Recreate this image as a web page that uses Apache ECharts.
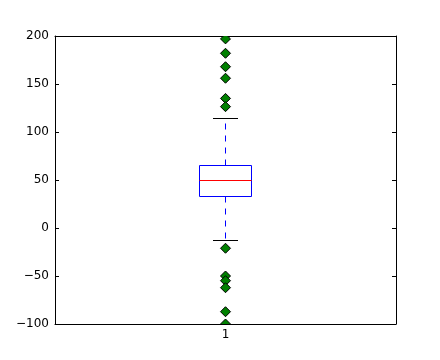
<!DOCTYPE html>
<html>
<head>
<meta charset="utf-8">
<script src="https://cdn.jsdelivr.net/npm/echarts@6/dist/echarts.min.js"></script>
<style>html,body{margin:0;padding:0;background:#fff;}#c{width:440px;height:360px;}</style>
</head>
<body>
<div id="c"></div>
<script>
const categories = ['1'];
// [lower whisker, Q1, median, Q3, upper whisker]
const boxStats = [-13.5, 32.3, 49.7, 65.3, 114.3];
const outliers = [197, 182, 168, 156, 135, 126.4, -21.1, -50, -54.9, -62.2, -87.2, -100];
const yTicks = { min: -100, max: 200, interval: 50 };

const FONT = 'DejaVu Sans';
const chart = echarts.init(document.getElementById('c'), null, { renderer: 'canvas' });

function fmtMinus(v) { return String(v).replace('-', '\u2212'); }
function snap(v) { return Math.round(v - 0.5) + 0.5; }

const axisCommon = {
  axisLine: { show: true, onZero: false, lineStyle: { color: '#000', width: 1 } },
  splitLine: { show: false }
};

chart.setOption({
  animation: false,
  backgroundColor: '#fff',
  grid: { left: 55, right: 44, top: 36, bottom: 36, containLabel: false },
  xAxis: [
    Object.assign({
      type: 'category', data: categories, boundaryGap: true, position: 'bottom',
      axisTick: { show: true, inside: true, alignWithLabel: true, length: 4, lineStyle: { color: '#000' } },
      axisLabel: { color: '#000', fontFamily: FONT, fontSize: 12, margin: 5 }
    }, axisCommon),
    Object.assign({
      type: 'category', data: categories, boundaryGap: true, position: 'top',
      axisTick: { show: true, inside: true, alignWithLabel: true, length: 4, lineStyle: { color: '#000' } },
      axisLabel: { show: false }
    }, axisCommon)
  ],
  yAxis: [
    Object.assign({
      type: 'value', min: yTicks.min, max: yTicks.max, interval: yTicks.interval, position: 'left',
      axisTick: { show: true, inside: true, length: 4, lineStyle: { color: '#000' } },
      axisLabel: { color: '#000', fontFamily: FONT, fontSize: 12, margin: 6, formatter: fmtMinus }
    }, axisCommon),
    Object.assign({
      type: 'value', min: yTicks.min, max: yTicks.max, interval: yTicks.interval, position: 'right',
      axisTick: { show: true, inside: true, length: 4, lineStyle: { color: '#000' } },
      axisLabel: { show: false }
    }, axisCommon)
  ],
  series: [
    {
      type: 'custom',
      xAxisIndex: 0, yAxisIndex: 0,
      clip: true,
      data: [[0].concat(boxStats)],
      encode: { x: 0, y: [1, 2, 3, 4, 5] },
      renderItem: function (params, api) {
        const idx = api.value(0);
        const lo = snap(api.coord([idx, api.value(1)])[1]);
        const q1 = snap(api.coord([idx, api.value(2)])[1]);
        const med = snap(api.coord([idx, api.value(3)])[1]);
        const q3 = snap(api.coord([idx, api.value(4)])[1]);
        const hi = snap(api.coord([idx, api.value(5)])[1]);
        const xc = api.coord([idx, api.value(3)])[0];
        const x = snap(xc);
        const bw = api.size([1, 0])[0] * 0.15;
        const cw = bw / 2;
        const bl = snap(xc - bw / 2), br = snap(xc + bw / 2);
        const cl = Math.round(xc - cw / 2), cr = Math.round(xc + cw / 2);
        return {
          type: 'group',
          children: [
            { type: 'line', shape: { x1: x, y1: q3, x2: x, y2: hi },
              style: { stroke: '#0000ff', lineWidth: 1, lineDash: [6, 6] } },
            { type: 'line', shape: { x1: x, y1: q1, x2: x, y2: lo },
              style: { stroke: '#0000ff', lineWidth: 1, lineDash: [6, 6] } },
            { type: 'line', shape: { x1: cl, y1: hi, x2: cr, y2: hi },
              style: { stroke: '#000', lineWidth: 1 } },
            { type: 'line', shape: { x1: cl, y1: lo, x2: cr, y2: lo },
              style: { stroke: '#000', lineWidth: 1 } },
            { type: 'rect', shape: { x: bl, y: q3, width: br - bl, height: q1 - q3 },
              style: { stroke: '#0000ff', fill: null, lineWidth: 1 } },
            { type: 'line', shape: { x1: bl, y1: med, x2: br, y2: med },
              style: { stroke: '#ff0000', lineWidth: 1 } }
          ]
        };
      }
    },
    {
      type: 'custom',
      xAxisIndex: 0, yAxisIndex: 0,
      clip: true,
      data: outliers.map(function (v) { return [0, v]; }),
      encode: { x: 0, y: 1 },
      renderItem: function (params, api) {
        const p = api.coord([api.value(0), api.value(1)]);
        const cx = snap(p[0]);
        const r = 5;
        return {
          type: 'polygon',
          shape: { points: [[cx, p[1] - r], [cx + r, p[1]], [cx, p[1] + r], [cx - r, p[1]]] },
          style: { fill: '#008000', stroke: '#000', lineWidth: 1 }
        };
      }
    }
  ]
});
</script>
</body>
</html>
